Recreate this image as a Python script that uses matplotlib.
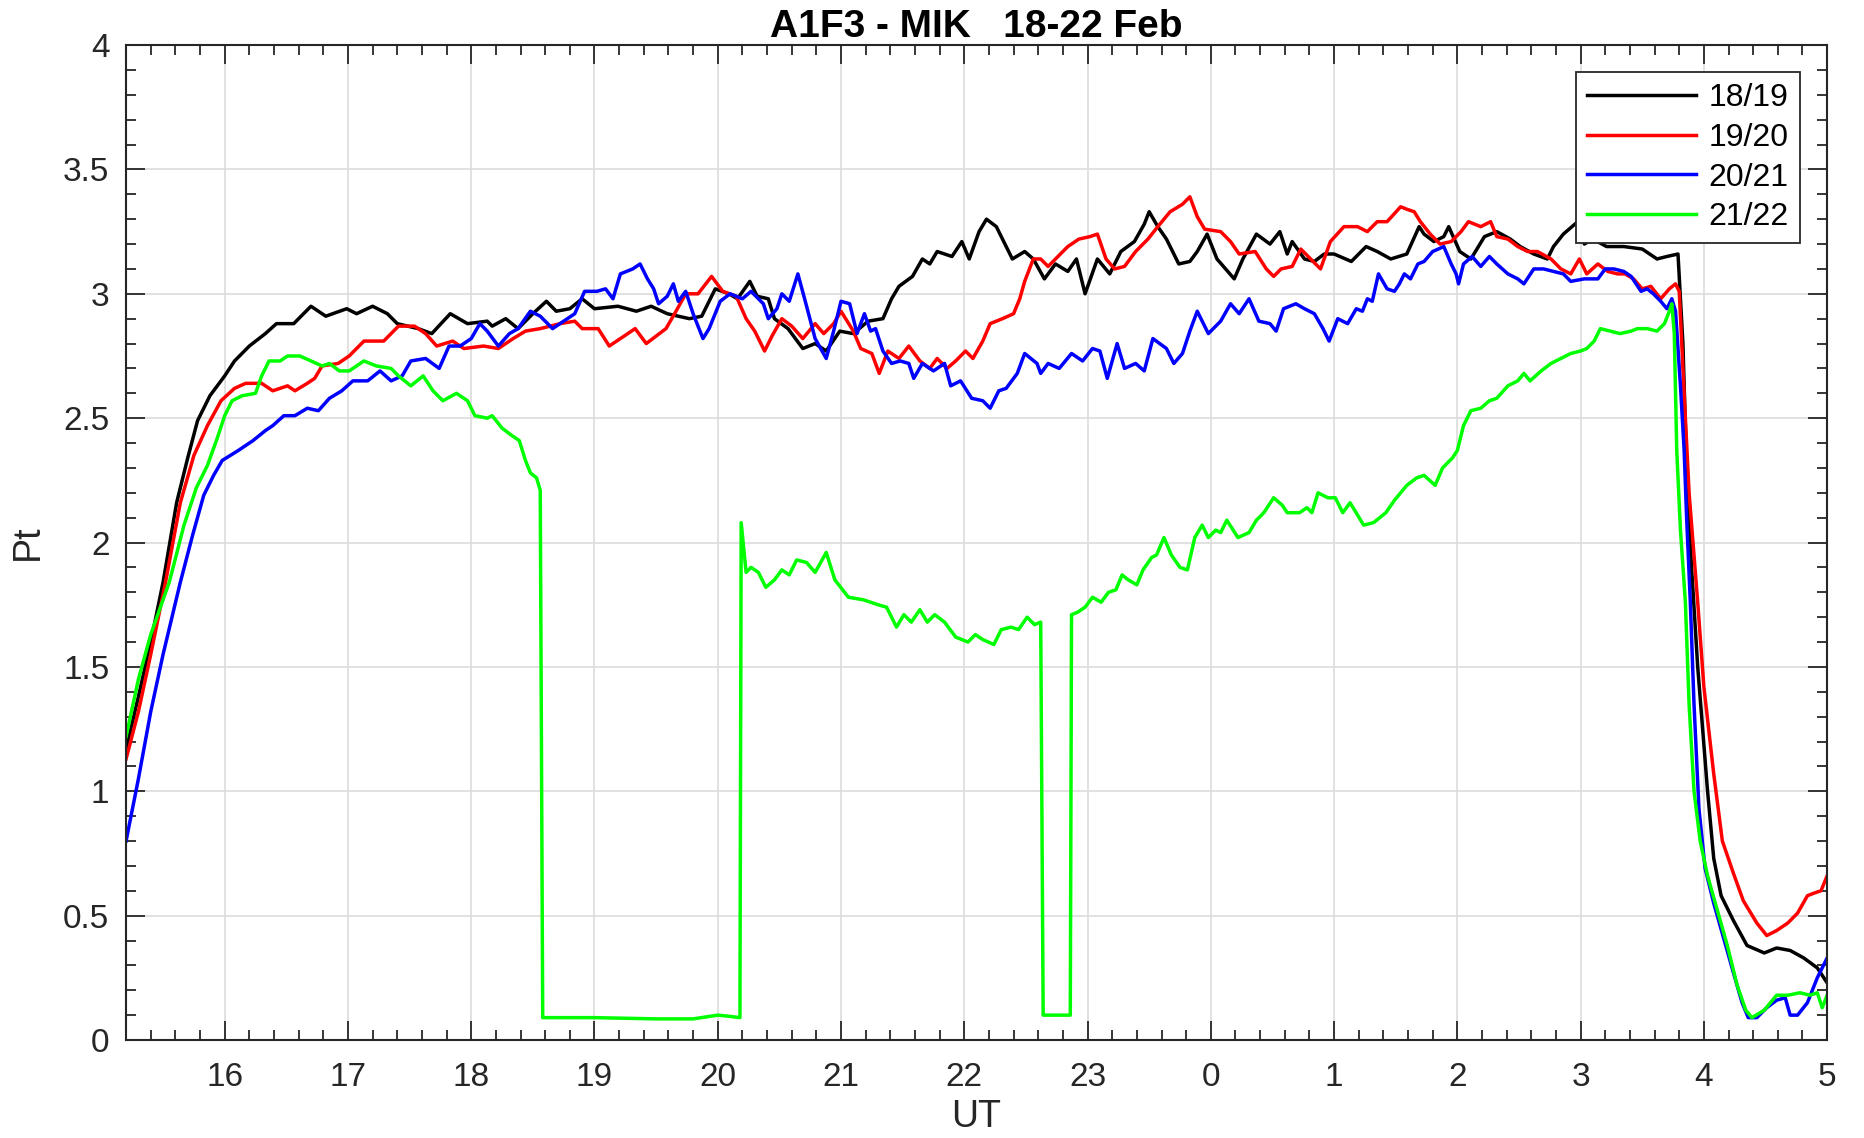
import matplotlib
matplotlib.use('Agg')
from matplotlib import pyplot as plt
from matplotlib.ticker import MultipleLocator

plt.rcParams['font.family'] = ['Liberation Sans', 'DejaVu Sans']

# UT hours, continuing past midnight (24 -> 0, 29 -> 5)
t_1819 = [15.2, 15.3, 15.4, 15.5, 15.61, 15.70, 15.78, 15.88, 16.0, 16.08, 16.20, 16.33, 16.42, 16.56,
          16.70, 16.82, 16.99, 17.07, 17.20, 17.32, 17.40, 17.57, 17.68, 17.83, 17.97, 18.13, 18.17,
          18.28, 18.38, 18.50, 18.61, 18.69, 18.80, 18.90, 19.0, 19.19, 19.34, 19.46, 19.59, 19.77,
          19.87, 19.98, 20.09, 20.16, 20.26, 20.32, 20.41, 20.46, 20.57, 20.69, 20.79, 20.88, 20.99,
          21.10, 21.22, 21.34, 21.41, 21.47, 21.58, 21.66, 21.72, 21.78, 21.90, 21.98, 22.04, 22.12,
          22.18, 22.26, 22.34, 22.39, 22.49, 22.56, 22.65, 22.74, 22.84, 22.91, 22.98, 23.08, 23.18,
          23.27, 23.38, 23.46, 23.50, 23.57, 23.64, 23.74, 23.83, 23.89, 23.97, 24.05, 24.19, 24.26,
          24.37, 24.48, 24.56, 24.62, 24.66, 24.76, 24.84, 24.92, 25.0, 25.14, 25.26, 25.35, 25.46,
          25.59, 25.69, 25.73, 25.81, 25.89, 25.93, 26.02, 26.11, 26.22, 26.32, 26.43, 26.51, 26.62,
          26.73, 26.78, 26.86, 26.93, 27.0, 27.03, 27.1, 27.21, 27.35, 27.5, 27.62, 27.70, 27.79,
          27.83, 27.86, 27.9, 27.95, 28.03, 28.08, 28.14, 28.24, 28.35, 28.49, 28.59, 28.70, 28.81,
          28.92, 29.0]
pt_1819 = [1.17, 1.38, 1.6, 1.84, 2.16, 2.34, 2.49, 2.59, 2.67, 2.73, 2.79, 2.84, 2.88, 2.88,
           2.95, 2.91, 2.94, 2.92, 2.95, 2.92, 2.88, 2.86, 2.84, 2.92, 2.88, 2.89, 2.87,
           2.90, 2.86, 2.92, 2.97, 2.93, 2.94, 2.98, 2.94, 2.95, 2.93, 2.95, 2.92, 2.90,
           2.91, 3.02, 3.0, 2.98, 3.05, 2.99, 2.98, 2.90, 2.86, 2.78, 2.80, 2.77, 2.85,
           2.84, 2.89, 2.90, 2.98, 3.03, 3.07, 3.14, 3.12, 3.17, 3.15, 3.21, 3.14, 3.25,
           3.30, 3.27, 3.19, 3.14, 3.17, 3.14, 3.06, 3.12, 3.09, 3.14, 3.0, 3.14, 3.08,
           3.17, 3.21, 3.28, 3.33, 3.27, 3.22, 3.12, 3.13, 3.17, 3.24, 3.14, 3.06, 3.14,
           3.24, 3.20, 3.25, 3.16, 3.21, 3.14, 3.13, 3.16, 3.16, 3.13, 3.19, 3.17, 3.14,
           3.16, 3.27, 3.24, 3.21, 3.23, 3.27, 3.17, 3.14, 3.23, 3.25, 3.22, 3.19, 3.16,
           3.14, 3.19, 3.24, 3.27, 3.30, 3.20, 3.22, 3.19, 3.19, 3.18, 3.14, 3.15, 3.16,
           2.8, 2.3, 1.9, 1.5, 1.0, 0.73, 0.58, 0.48, 0.38, 0.35, 0.37, 0.36, 0.33,
           0.29, 0.23]

t_1920 = [15.2, 15.3, 15.4, 15.52, 15.64, 15.75, 15.86, 15.97, 16.08, 16.17, 16.30, 16.39, 16.51,
          16.57, 16.67, 16.73, 16.79, 16.92, 17.01, 17.13, 17.29, 17.41, 17.54, 17.63, 17.72, 17.85,
          17.94, 18.10, 18.22, 18.34, 18.44, 18.56, 18.72, 18.84, 18.90, 19.03, 19.12, 19.21, 19.33,
          19.42, 19.5, 19.58, 19.65, 19.74, 19.84, 19.95, 20.04, 20.15, 20.23, 20.30, 20.38, 20.44,
          20.52, 20.60, 20.69, 20.79, 20.86, 20.94, 21.0, 21.10, 21.16, 21.25, 21.31, 21.38, 21.47,
          21.55, 21.64, 21.72, 21.78, 21.86, 21.93, 22.01, 22.07, 22.15, 22.21, 22.31, 22.40, 22.45,
          22.49, 22.56, 22.62, 22.68, 22.74, 22.84, 22.93, 23.02, 23.08, 23.15, 23.22, 23.30, 23.39,
          23.49, 23.57, 23.67, 23.77, 23.83, 23.89, 23.95, 24.08, 24.16, 24.23, 24.36, 24.45, 24.51,
          24.57, 24.66, 24.73, 24.81, 24.89, 24.97, 25.08, 25.19, 25.27, 25.35, 25.43, 25.54, 25.59,
          25.65, 25.70, 25.78, 25.86, 25.95, 26.03, 26.09, 26.19, 26.27, 26.32, 26.41, 26.49, 26.57,
          26.65, 26.76, 26.84, 26.92, 26.99, 27.05, 27.14, 27.22, 27.30, 27.36, 27.43, 27.50, 27.57,
          27.65, 27.72, 27.77, 27.80, 27.84, 27.88, 27.92, 27.95, 28.0, 28.08, 28.15, 28.24, 28.32,
          28.43, 28.51, 28.59, 28.68, 28.76, 28.84, 28.89, 28.95, 29.0]
pt_1920 = [1.13, 1.32, 1.55, 1.84, 2.16, 2.35, 2.47, 2.57, 2.62, 2.64, 2.64, 2.61, 2.63,
           2.61, 2.64, 2.66, 2.71, 2.72, 2.75, 2.81, 2.81, 2.87, 2.87, 2.84, 2.79, 2.81,
           2.78, 2.79, 2.78, 2.82, 2.85, 2.86, 2.88, 2.89, 2.86, 2.86, 2.79, 2.82, 2.86,
           2.80, 2.83, 2.86, 2.92, 3.0, 3.0, 3.07, 3.01, 2.99, 2.90, 2.85, 2.77, 2.83,
           2.90, 2.87, 2.82, 2.88, 2.84, 2.88, 2.93, 2.85, 2.78, 2.76, 2.68, 2.77, 2.74,
           2.79, 2.73, 2.70, 2.74, 2.70, 2.73, 2.77, 2.74, 2.81, 2.88, 2.90, 2.92, 2.98,
           3.05, 3.14, 3.14, 3.11, 3.14, 3.19, 3.22, 3.23, 3.24, 3.14, 3.10, 3.11, 3.17,
           3.22, 3.27, 3.33, 3.36, 3.39, 3.31, 3.26, 3.25, 3.21, 3.16, 3.17, 3.10, 3.07,
           3.10, 3.11, 3.18, 3.14, 3.10, 3.21, 3.27, 3.27, 3.25, 3.29, 3.29, 3.35, 3.34,
           3.33, 3.29, 3.24, 3.20, 3.21, 3.25, 3.29, 3.27, 3.29, 3.23, 3.22, 3.19, 3.17,
           3.17, 3.14, 3.10, 3.08, 3.14, 3.08, 3.12, 3.09, 3.08, 3.08, 3.06, 3.02, 3.03,
           2.98, 3.02, 3.04, 3.01, 2.6, 2.2, 1.95, 1.76, 1.42, 1.07, 0.80, 0.67, 0.56,
           0.47, 0.42, 0.44, 0.47, 0.51, 0.58, 0.59, 0.60, 0.66]

t_2021 = [15.2, 15.3, 15.4, 15.5, 15.64, 15.74, 15.83, 15.91, 15.98, 16.11, 16.23, 16.33, 16.39,
          16.48, 16.57, 16.67, 16.76, 16.85, 16.95, 17.04, 17.16, 17.26, 17.35, 17.44, 17.51, 17.63,
          17.74, 17.82, 17.91, 18.0, 18.07, 18.13, 18.22, 18.31, 18.38, 18.48, 18.56, 18.66, 18.75,
          18.84, 18.92, 19.02, 19.09, 19.15, 19.21, 19.31, 19.37, 19.43, 19.48, 19.52, 19.59, 19.64,
          19.68, 19.74, 19.80, 19.88, 19.93, 20.02, 20.10, 20.20, 20.27, 20.37, 20.41, 20.48, 20.52,
          20.58, 20.65, 20.71, 20.79, 20.88, 20.94, 21.0, 21.07, 21.13, 21.19, 21.24, 21.28, 21.34,
          21.41, 21.48, 21.55, 21.59, 21.66, 21.75, 21.84, 21.89, 21.97, 22.06, 22.15, 22.21, 22.28,
          22.34, 22.43, 22.49, 22.59, 22.62, 22.68, 22.77, 22.87, 22.96, 23.04, 23.10, 23.16, 23.24,
          23.30, 23.39, 23.46, 23.53, 23.64, 23.70, 23.77, 23.83, 23.89, 23.98, 24.08, 24.16, 24.23,
          24.31, 24.39, 24.48, 24.53, 24.59, 24.69, 24.76, 24.84, 24.91, 24.96, 25.03, 25.11, 25.18,
          25.23, 25.27, 25.31, 25.36, 25.43, 25.49, 25.53, 25.57, 25.62, 25.68, 25.73, 25.80, 25.89,
          25.95, 25.99, 26.01, 26.05, 26.12, 26.19, 26.26, 26.32, 26.41, 26.49, 26.54, 26.62, 26.70,
          26.78, 26.86, 26.92, 27.03, 27.14, 27.20, 27.27, 27.35, 27.41, 27.49, 27.54, 27.59, 27.65,
          27.70, 27.74, 27.77, 27.81, 27.84, 27.86, 27.89, 27.92, 27.96, 28.01, 28.08, 28.16, 28.24,
          28.31, 28.36, 28.43, 28.51, 28.59, 28.66, 28.70, 28.76, 28.84, 28.92, 29.0]
pt_2021 = [0.80, 1.05, 1.32, 1.55, 1.84, 2.03, 2.19, 2.27, 2.33, 2.37, 2.41, 2.45, 2.47,
           2.51, 2.51, 2.54, 2.53, 2.58, 2.61, 2.65, 2.65, 2.69, 2.65, 2.67, 2.73, 2.74,
           2.70, 2.79, 2.79, 2.82, 2.88, 2.85, 2.79, 2.84, 2.86, 2.93, 2.91, 2.86, 2.89,
           2.92, 3.01, 3.01, 3.02, 2.98, 3.08, 3.10, 3.12, 3.06, 3.02, 2.96, 2.99, 3.04,
           2.97, 3.01, 2.92, 2.82, 2.86, 2.97, 3.0, 2.98, 3.01, 2.96, 2.90, 2.94, 3.0,
           2.97, 3.08, 2.97, 2.82, 2.74, 2.85, 2.97, 2.96, 2.84, 2.92, 2.85, 2.86, 2.77,
           2.72, 2.73, 2.72, 2.66, 2.72, 2.69, 2.72, 2.63, 2.65, 2.58, 2.57, 2.54, 2.61,
           2.62, 2.68, 2.76, 2.72, 2.68, 2.72, 2.70, 2.76, 2.73, 2.78, 2.77, 2.66, 2.80,
           2.70, 2.72, 2.69, 2.82, 2.78, 2.72, 2.76, 2.85, 2.93, 2.84, 2.89, 2.96, 2.92,
           2.98, 2.89, 2.88, 2.85, 2.94, 2.96, 2.94, 2.92, 2.86, 2.81, 2.90, 2.88, 2.94,
           2.93, 2.98, 2.97, 3.08, 3.02, 3.01, 3.04, 3.08, 3.06, 3.12, 3.13, 3.17, 3.19,
           3.12, 3.08, 3.04, 3.12, 3.15, 3.11, 3.15, 3.12, 3.08, 3.06, 3.04, 3.10, 3.10,
           3.09, 3.08, 3.05, 3.06, 3.06, 3.10, 3.10, 3.09, 3.07, 3.01, 3.02, 3.0, 2.97,
           2.94, 2.98, 2.93, 2.63, 2.37, 2.1, 1.76, 1.35, 0.93, 0.69, 0.55, 0.41, 0.27,
           0.15, 0.09, 0.09, 0.13, 0.16, 0.17, 0.10, 0.10, 0.15, 0.25, 0.33]

t_2122 = [15.2, 15.3, 15.4, 15.55, 15.67, 15.77, 15.86, 15.94, 16.0, 16.06, 16.14, 16.25, 16.30,
          16.36, 16.45, 16.51, 16.61, 16.70, 16.79, 16.85, 16.93, 17.01, 17.13, 17.23, 17.35, 17.41,
          17.51, 17.61, 17.69, 17.77, 17.88, 17.97, 18.03, 18.13, 18.17, 18.25, 18.33, 18.39, 18.44,
          18.48, 18.53, 18.56, 18.58, 19.0, 19.5, 19.8, 20.0, 20.1, 20.18, 20.19, 20.23, 20.27,
          20.33, 20.39, 20.46, 20.52, 20.58, 20.64, 20.72, 20.79, 20.88, 20.95, 21.06, 21.18, 21.30,
          21.37, 21.45, 21.51, 21.57, 21.64, 21.70, 21.76, 21.84, 21.93, 22.03, 22.09, 22.15, 22.24,
          22.30, 22.38, 22.44, 22.51, 22.57, 22.62, 22.64, 22.86, 22.87, 22.92, 22.98, 23.04, 23.11,
          23.17, 23.23, 23.28, 23.33, 23.40, 23.45, 23.52, 23.56, 23.62, 23.68, 23.75, 23.81, 23.87,
          23.93, 23.98, 24.04, 24.08, 24.13, 24.22, 24.31, 24.37, 24.43, 24.51, 24.58, 24.62, 24.72,
          24.78, 24.82, 24.87, 24.95, 25.01, 25.07, 25.13, 25.24, 25.32, 25.42, 25.49, 25.59, 25.67,
          25.73, 25.82, 25.88, 25.96, 26.0, 26.05, 26.11, 26.19, 26.26, 26.32, 26.41, 26.49, 26.54,
          26.59, 26.68, 26.76, 26.84, 26.92, 27.0, 27.05, 27.11, 27.16, 27.24, 27.32, 27.41, 27.46,
          27.54, 27.62, 27.68, 27.72, 27.74, 27.76, 27.78, 27.81, 27.85, 27.88, 27.92, 27.97, 28.03,
          28.11, 28.19, 28.27, 28.34, 28.39, 28.49, 28.59, 28.68, 28.78, 28.86, 28.92, 28.96, 29.0]
pt_2122 = [1.22, 1.45, 1.63, 1.84, 2.07, 2.22, 2.31, 2.42, 2.51, 2.57, 2.59, 2.60, 2.67,
           2.73, 2.73, 2.75, 2.75, 2.73, 2.71, 2.72, 2.69, 2.69, 2.73, 2.71, 2.70, 2.67,
           2.63, 2.67, 2.61, 2.57, 2.60, 2.57, 2.51, 2.50, 2.51, 2.46, 2.43, 2.41, 2.33,
           2.28, 2.26, 2.21, 0.09, 0.09, 0.085, 0.085, 0.10, 0.095, 0.09, 2.08, 1.88, 1.90,
           1.88, 1.82, 1.85, 1.89, 1.87, 1.93, 1.92, 1.88, 1.96, 1.85, 1.78, 1.77, 1.75,
           1.74, 1.66, 1.71, 1.68, 1.73, 1.68, 1.71, 1.68, 1.62, 1.60, 1.63, 1.61, 1.59,
           1.65, 1.66, 1.65, 1.70, 1.67, 1.68, 0.10, 0.10, 1.71, 1.72, 1.74, 1.78, 1.76,
           1.80, 1.81, 1.87, 1.85, 1.83, 1.89, 1.94, 1.95, 2.02, 1.95, 1.90, 1.89, 2.02,
           2.07, 2.02, 2.05, 2.04, 2.09, 2.02, 2.04, 2.09, 2.12, 2.18, 2.15, 2.12, 2.12,
           2.14, 2.12, 2.20, 2.18, 2.18, 2.12, 2.16, 2.07, 2.08, 2.12, 2.17, 2.23, 2.26,
           2.27, 2.23, 2.30, 2.34, 2.37, 2.47, 2.53, 2.54, 2.57, 2.58, 2.63, 2.65, 2.68,
           2.65, 2.69, 2.72, 2.74, 2.76, 2.77, 2.78, 2.81, 2.86, 2.85, 2.84, 2.85, 2.86,
           2.86, 2.85, 2.88, 2.93, 2.96, 2.84, 2.37, 2.05, 1.76, 1.35, 1.0, 0.80, 0.66,
           0.52, 0.38, 0.22, 0.12, 0.09, 0.12, 0.18, 0.18, 0.19, 0.18, 0.19, 0.13, 0.18]

labels = ['18/19', '19/20', '20/21', '21/22']
colors = ['#000000', '#ff0000', '#0000ff', '#00ff00']
hour_ticks = list(range(16, 30))
hour_labels = [str(h % 24) for h in hour_ticks]
pt_ticks = [0, 0.5, 1, 1.5, 2, 2.5, 3, 3.5, 4]
pt_labels = ['0', '0.5', '1', '1.5', '2', '2.5', '3', '3.5', '4']

fig = plt.figure(figsize=(18.65, 11.38), dpi=100)
ax = fig.add_axes([0.0676, 0.0861, 0.9121, 0.8743])

series = [(t_1819, pt_1819), (t_1920, pt_1920), (t_2021, pt_2021), (t_2122, pt_2122)]
for (t, v), lab, c in zip(series, labels, colors):
    ax.plot(t, v, color=c, lw=2.5, label=lab)

ax.set_xlim(15.2, 29)
ax.set_ylim(0, 4)
ax.set_xticks(hour_ticks, hour_labels)
ax.set_yticks(pt_ticks, pt_labels)
ax.xaxis.set_minor_locator(MultipleLocator(0.2))
ax.yaxis.set_minor_locator(MultipleLocator(0.1))

ax.grid(True, which='major', color='#dcdcdc', lw=1.2)
ax.set_axisbelow(True)
ax.tick_params(which='both', direction='in', top=True, right=True,
               colors='#262626', width=1.3, labelsize=24)
ax.tick_params(axis='x', pad=16)
ax.tick_params(axis='y', pad=12)
ax.tick_params(which='major', length=14)
ax.tick_params(which='minor', length=7)
for s in ax.spines.values():
    s.set_color('#262626')
    s.set_linewidth(1.5)

ax.set_xlabel('UT', fontsize=27, color='#262626', labelpad=4)
ax.set_ylabel('Pt', fontsize=27, color='#262626', labelpad=12)
ax.set_title('A1F3 - MIK   18-22 Feb', fontsize=28, fontweight='bold', pad=5)

leg = ax.legend(loc='upper right', fontsize=23, handlelength=3.4, borderaxespad=0.85,
                fancybox=False, framealpha=1, edgecolor='#262626', labelspacing=0.3,
                handletextpad=0.4, borderpad=0.35)
leg.get_frame().set_linewidth(1.3)

fig.savefig('out.png', dpi=100)
